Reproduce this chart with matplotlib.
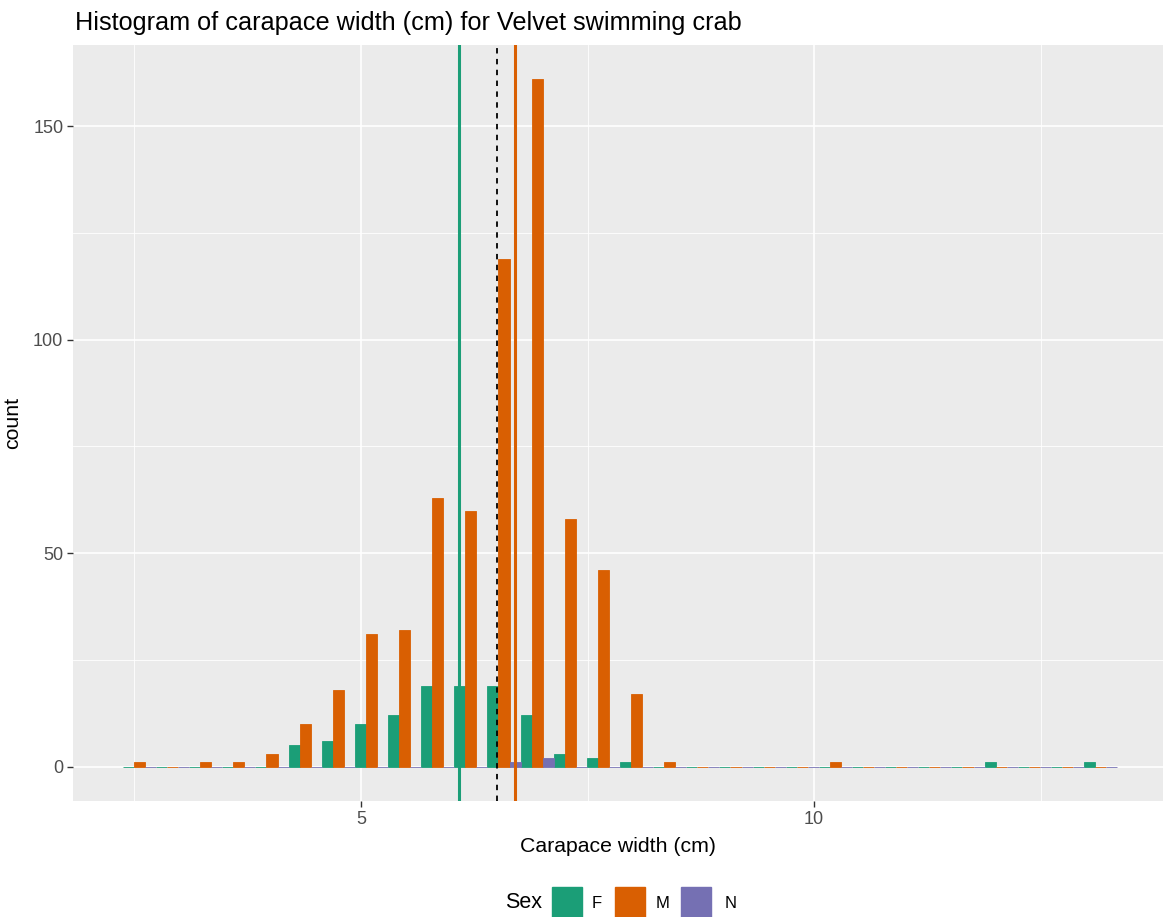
import numpy as np
import matplotlib.pyplot as plt
from matplotlib.patches import Rectangle

plt.rcParams['font.family'] = ['Liberation Sans', 'DejaVu Sans']

# histogram: 30 bins, counts per sex
bin_start = 2.373
bin_width = 0.3657
n_bins = 30
sexes = ['F', 'M', 'N']
colors = {'F': '#1B9E77', 'M': '#D95F02', 'N': '#7570B3'}
counts_F = [0, 0, 0, 0, 0, 5, 6, 10, 12, 19, 19, 19, 12, 3, 2, 1, 0, 0, 0, 0,
            0, 0, 0, 0, 0, 0, 1, 0, 0, 1]
counts_M = [1, 0, 1, 1, 3, 10, 18, 31, 32, 63, 60, 119, 161, 58, 46, 17, 1, 0, 0, 0,
            0, 1, 0, 0, 0, 0, 0, 0, 0, 0]
counts_N = [0, 0, 0, 0, 0, 0, 0, 0, 0, 0, 0, 1, 2, 0, 0, 0, 0, 0, 0, 0,
            0, 0, 0, 0, 0, 0, 0, 0, 0, 0]
counts = {'F': counts_F, 'M': counts_M, 'N': counts_N}

# means drawn as vertical lines
mean_F = 6.08
mean_all = 6.50
mean_M = 6.70

fig = plt.figure(figsize=(11.63, 9.17), dpi=100)
ax = fig.add_axes([0.0628, 0.1265, 0.9372, 0.8244])
ax.set_facecolor('#EBEBEB')

edges = bin_start + bin_width * np.arange(n_bins)
sub_w = bin_width / 3
for i, s in enumerate(sexes):
    ax.bar(edges + sub_w * (i + 0.5), counts[s], width=sub_w, color=colors[s],
           edgecolor=colors[s], linewidth=0.6, zorder=3)

ax.axvline(mean_F, color=colors['F'], linewidth=2.2, zorder=4)
ax.axvline(mean_M, color=colors['M'], linewidth=2.2, zorder=4)
ax.axvline(mean_all, color='black', linewidth=1.3, linestyle=(0, (3, 3)), zorder=4)

ax.set_xlim(1.823, 13.85)
ax.set_ylim(-8.05, 169.05)
ax.set_xticks([5, 10])
ax.set_xticks([2.5, 7.5, 12.5], minor=True)
ax.set_yticks([0, 50, 100, 150])
ax.set_yticks([25, 75, 125], minor=True)
ax.grid(which='major', color='white', linewidth=1.2, zorder=0)
ax.grid(which='minor', color='white', linewidth=0.6, zorder=0)
ax.set_axisbelow(True)
for sp in ax.spines.values():
    sp.set_visible(False)
ax.tick_params(which='major', length=4, width=1, color='#333333',
               labelsize=13, labelcolor='#4D4D4D', pad=3)
ax.tick_params(which='minor', length=0)

ax.set_xlabel('Carapace width (cm)', fontsize=15.3, labelpad=7)
ax.set_ylabel('count', fontsize=15.3, labelpad=8)
fig.text(0.0645, 0.975, 'Histogram of carapace width (cm) for Velvet swimming crab',
         fontsize=18.2, va='center', ha='left')

# legend at bottom
fig.text(505 / 1163, 1 - 903 / 917, 'Sex', fontsize=15.5, va='center', ha='left')
key_x = [552, 615, 681]
lab_x = [592, 656, 725]
for kx, lx, s in zip(key_x, lab_x, sexes):
    fig.patches.append(Rectangle((kx / 1163, 0), 30 / 1163, 30 / 917,
                                 transform=fig.transFigure, color=colors[s]))
    fig.text(lx / 1163, 1 - 903 / 917, s, fontsize=12, va='center', ha='left')

fig.savefig('out.png', dpi=100)
